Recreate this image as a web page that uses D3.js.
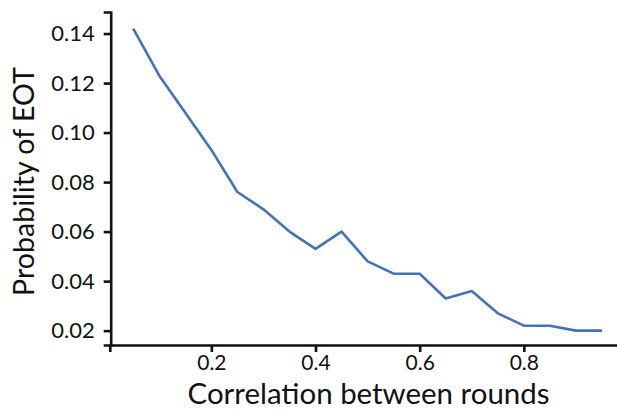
<!DOCTYPE html>
<html><head><meta charset="utf-8">
<script src="https://cdn.jsdelivr.net/npm/d3@7"></script>
<style>
html,body{margin:0;padding:0;background:#fff;}
svg{display:block;}
text{font-family:"Lato","Open Sans",sans-serif;fill:#111;}
</style></head>
<body>
<svg id="chart" width="617" height="409"></svg>
<script>
const correlation = [0.05,0.10,0.15,0.20,0.25,0.30,0.35,0.40,0.45,0.50,0.55,0.60,0.65,0.70,0.75,0.80,0.85,0.90,0.95];
const probEOT    = [0.142,0.123,0.108,0.093,0.076,0.069,0.060,0.053,0.060,0.048,0.043,0.043,0.033,0.036,0.027,0.022,0.022,0.020,0.020];
const xTicks = [0.2,0.4,0.6,0.8];
const yTicks = [0.02,0.04,0.06,0.08,0.10,0.12,0.14];
const xLabel = "Correlation between rounds";
const yLabel = "Probability of EOT";

const svg = d3.select("#chart");
const x = d3.scaleLinear().domain([0.005,0.995]).range([109.8,625.4]);
const y = d3.scaleLinear().domain([0.0142,0.1487]).range([345,12]);

const axisColor = "#111";
// x axis
const gx = svg.append("g").attr("transform","translate(0,345)")
  .call(d3.axisBottom(x).tickValues(xTicks).tickFormat(d3.format(".1f")).tickSizeOuter(0).tickSize(7).tickPadding(3));
gx.select(".domain").attr("stroke",axisColor).attr("stroke-width",2.6);
gx.selectAll(".tick line").attr("stroke",axisColor).attr("stroke-width",2.6);
gx.selectAll(".tick text").style("font-size","21px").style("font-family","Lato").attr("fill","#111");

// y axis
const gy = svg.append("g").attr("transform","translate(110.7,0)")
  .call(d3.axisLeft(y).tickValues(yTicks).tickFormat(d3.format(".2f")).tickSizeOuter(0).tickSize(7).tickPadding(9));
gy.select(".domain").attr("stroke",axisColor).attr("stroke-width",2.6);
gy.selectAll(".tick line").attr("stroke",axisColor).attr("stroke-width",2.6);
gy.selectAll(".tick text").style("font-size","22px").style("font-family","Lato").attr("fill","#111");

// line
const line = d3.line().x((d,i)=>x(correlation[i])).y(d=>y(d));
svg.append("path").datum(probEOT)
  .attr("d",line).attr("fill","none").attr("stroke","#4572b6")
  .attr("stroke-width",2.6).attr("stroke-linejoin","round");

// axis labels
function fit(t, target){
  let fs = 26; t.style("font-size",fs+"px");
  const w = t.node().getComputedTextLength();
  t.style("font-size",(fs*target/w)+"px");
}
const xl = svg.append("text").attr("x",368.5).attr("y",403.5).attr("text-anchor","middle").text(xLabel);
fit(xl,362);
const yl = svg.append("text").attr("transform","translate(34,181.5) rotate(-90)").attr("text-anchor","middle").text(yLabel);
fit(yl,229);
</script>
</body></html>
